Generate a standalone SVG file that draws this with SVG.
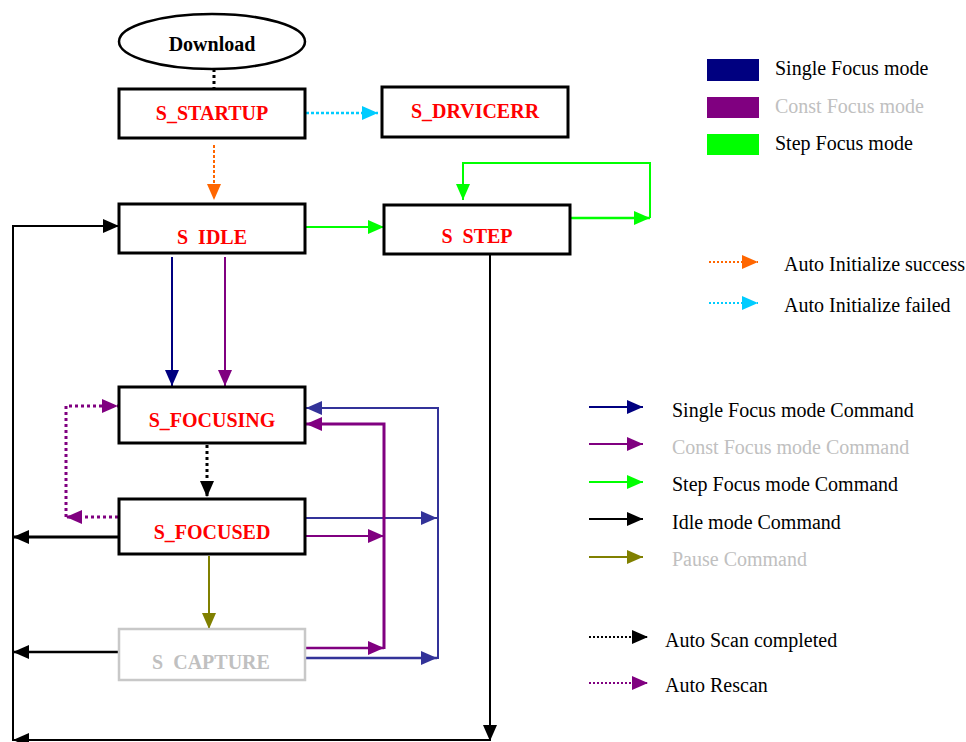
<svg xmlns="http://www.w3.org/2000/svg" width="966" height="742" viewBox="0 0 966 742">
<style>
.box{fill:#fff;stroke:#000;stroke-width:3}
.gbox{fill:#fff;stroke:#c8c8c8;stroke-width:2.5}
.st{font-family:"Liberation Serif","Times New Roman",serif;font-weight:bold;font-size:20px;fill:#ff0000;text-anchor:middle;white-space:pre}
.lg{font-family:"Liberation Serif","Times New Roman",serif;font-size:20px;fill:#000}
.gray{fill:#c0c0c0}
.ln{fill:none;stroke-width:2}
</style>
<defs>
<marker id="aK" markerUnits="userSpaceOnUse" markerWidth="16" markerHeight="14" refX="16" refY="7" orient="auto"><path d="M0,0L16,7L0,14z" fill="#000"/></marker>
<marker id="aN" markerUnits="userSpaceOnUse" markerWidth="16" markerHeight="14" refX="16" refY="7" orient="auto"><path d="M0,0L16,7L0,14z" fill="#000080"/></marker>
<marker id="aP" markerUnits="userSpaceOnUse" markerWidth="16" markerHeight="14" refX="16" refY="7" orient="auto"><path d="M0,0L16,7L0,14z" fill="#800080"/></marker>
<marker id="aG" markerUnits="userSpaceOnUse" markerWidth="16" markerHeight="14" refX="16" refY="7" orient="auto"><path d="M0,0L16,7L0,14z" fill="#00ff00"/></marker>
<marker id="aO" markerUnits="userSpaceOnUse" markerWidth="16" markerHeight="14" refX="16" refY="7" orient="auto"><path d="M0,0L16,7L0,14z" fill="#ff6600"/></marker>
<marker id="aC" markerUnits="userSpaceOnUse" markerWidth="16" markerHeight="14" refX="16" refY="7" orient="auto"><path d="M0,0L16,7L0,14z" fill="#00ccff"/></marker>
<marker id="aL" markerUnits="userSpaceOnUse" markerWidth="16" markerHeight="14" refX="16" refY="7" orient="auto"><path d="M0,0L16,7L0,14z" fill="#808000"/></marker>
<marker id="aB" markerUnits="userSpaceOnUse" markerWidth="16" markerHeight="14" refX="16" refY="7" orient="auto"><path d="M0,0L16,7L0,14z" fill="#333399"/></marker>
</defs>
<rect width="966" height="742" fill="#fff"/>

<g id="connectors">
<line x1="214" y1="69" x2="214" y2="89" stroke="#000" stroke-width="3" stroke-dasharray="3,3"/>
<line x1="214" y1="145" x2="214" y2="200" stroke="#ff6600" stroke-width="2" stroke-dasharray="3,2" marker-end="url(#aO)"/>
<line x1="306" y1="113" x2="378" y2="113" stroke="#00ccff" stroke-width="2.5" stroke-dasharray="3,2" marker-end="url(#aC)"/>
<line x1="306" y1="227" x2="384" y2="227" class="ln" stroke="#00ff00" marker-end="url(#aG)"/>
<line x1="571" y1="218" x2="650" y2="218" stroke="#00ff00" stroke-width="2.5" marker-end="url(#aG)"/>
<polyline points="650,218 650,163 463,163 463,200" class="ln" stroke="#00ff00" marker-end="url(#aG)"/>
<line x1="490" y1="255" x2="490" y2="741" class="ln" stroke="#000" marker-end="url(#aK)"/>
<line x1="490" y1="740" x2="13" y2="740" class="ln" stroke="#000" marker-end="url(#aK)"/>
<polyline points="13,741 13,226 119,226" class="ln" stroke="#000" stroke-width="2.5" marker-end="url(#aK)"/>
<line x1="119" y1="537" x2="13" y2="537" stroke="#000" stroke-width="3" marker-end="url(#aK)"/>
<line x1="119" y1="652" x2="13" y2="652" stroke="#000" stroke-width="2.5" marker-end="url(#aK)"/>
<line x1="172" y1="257" x2="172" y2="386" class="ln" stroke="#000080" marker-end="url(#aN)"/>
<line x1="225" y1="257" x2="225" y2="386" class="ln" stroke="#800080" marker-end="url(#aP)"/>
<line x1="207" y1="445" x2="207" y2="497" stroke="#000" stroke-width="3" stroke-dasharray="3,3" marker-end="url(#aK)"/>
<line x1="118" y1="517" x2="66" y2="517" stroke="#800080" stroke-width="3" stroke-dasharray="3,3" marker-end="url(#aP)"/>
<polyline points="66,517 66,406 118,406" fill="none" stroke="#800080" stroke-width="3" stroke-dasharray="3,3" marker-end="url(#aP)"/>
<line x1="209" y1="556" x2="209" y2="629" class="ln" stroke="#808000" stroke-width="2.5" marker-end="url(#aL)"/>
<polyline points="438,659 438,408 306,408" class="ln" stroke="#333399" marker-end="url(#aB)"/>
<line x1="306" y1="518" x2="437" y2="518" class="ln" stroke="#333399" marker-end="url(#aB)"/>
<line x1="306" y1="658" x2="437" y2="658" stroke="#333399" stroke-width="2.5" marker-end="url(#aB)"/>
<polyline points="384,649 384,424 306,424" fill="none" stroke="#800080" stroke-width="3" marker-end="url(#aP)"/>
<line x1="306" y1="536" x2="384" y2="536" class="ln" stroke="#800080" marker-end="url(#aP)"/>
<line x1="306" y1="648" x2="384" y2="648" stroke="#800080" stroke-width="2.5" marker-end="url(#aP)"/>
</g>

<g id="download">
<ellipse cx="212" cy="41.5" rx="93" ry="27.5" fill="#fff" stroke="#000" stroke-width="2.5"/>
<text x="212" y="51" class="st" style="fill:#000">Download</text>
</g>
<g id="s_startup">
<rect x="119" y="89" width="186" height="49" class="box"/>
<text x="212" y="120" class="st">S_STARTUP</text>
</g>
<g id="s_drvicerr">
<rect x="382" y="87" width="186" height="50" class="box"/>
<text x="475" y="118" class="st">S_DRVICERR</text>
</g>
<g id="s_idle">
<rect x="119" y="204" width="186" height="49" class="box"/>
<text x="212" y="244" class="st">S  IDLE</text>
</g>
<g id="s_step">
<rect x="384" y="205" width="186" height="49" class="box"/>
<text x="477" y="243" class="st">S  STEP</text>
</g>
<g id="s_focusing">
<rect x="119" y="387" width="186" height="56" class="box"/>
<text x="212" y="427" class="st">S_FOCUSING</text>
</g>
<g id="s_focused">
<rect x="119" y="499" width="186" height="55" class="box"/>
<text x="212" y="539" class="st">S_FOCUSED</text>
</g>
<g id="s_capture">
<rect x="119" y="629" width="186" height="51" class="gbox"/>
<text x="211" y="669" class="st" style="fill:#c0c0c0">S  CAPTURE</text>
</g>

<g id="legend">
<rect x="707" y="59" width="52" height="22" fill="#000080"/>
<text x="775" y="75" class="lg">Single Focus mode</text>
<rect x="707" y="97" width="52" height="21" fill="#800080"/>
<text x="775" y="113" class="lg gray">Const Focus mode</text>
<rect x="707" y="134" width="52" height="21" fill="#00ff00"/>
<text x="775" y="150" class="lg">Step Focus mode</text>

<line x1="709" y1="262" x2="758" y2="262" stroke="#ff6600" stroke-width="2" stroke-dasharray="2,2" marker-end="url(#aO)"/>
<text x="784" y="271" class="lg">Auto Initialize success</text>
<line x1="709" y1="303" x2="758" y2="303" stroke="#00ccff" stroke-width="2" stroke-dasharray="2,2" marker-end="url(#aC)"/>
<text x="784" y="312" class="lg">Auto Initialize failed</text>

<line x1="589" y1="407" x2="643" y2="407" class="ln" stroke="#000080" marker-end="url(#aN)"/>
<text x="672" y="417" class="lg">Single Focus mode Command</text>
<line x1="589" y1="444" x2="643" y2="444" class="ln" stroke="#800080" marker-end="url(#aP)"/>
<text x="672" y="454" class="lg gray">Const Focus mode Command</text>
<line x1="589" y1="482" x2="643" y2="482" class="ln" stroke="#00ff00" marker-end="url(#aG)"/>
<text x="672" y="491" class="lg">Step Focus mode Command</text>
<line x1="589" y1="519" x2="643" y2="519" class="ln" stroke="#000" marker-end="url(#aK)"/>
<text x="672" y="529" class="lg">Idle mode Command</text>
<line x1="589" y1="557" x2="643" y2="557" class="ln" stroke="#808000" marker-end="url(#aL)"/>
<text x="672" y="566" class="lg gray">Pause Command</text>

<line x1="589" y1="637" x2="648" y2="637" stroke="#000" stroke-width="2" stroke-dasharray="2,2" marker-end="url(#aK)"/>
<text x="665" y="647" class="lg">Auto Scan completed</text>
<line x1="589" y1="683" x2="648" y2="683" stroke="#800080" stroke-width="2" stroke-dasharray="2,2" marker-end="url(#aP)"/>
<text x="665" y="692" class="lg">Auto Rescan</text>
</g>
</svg>
